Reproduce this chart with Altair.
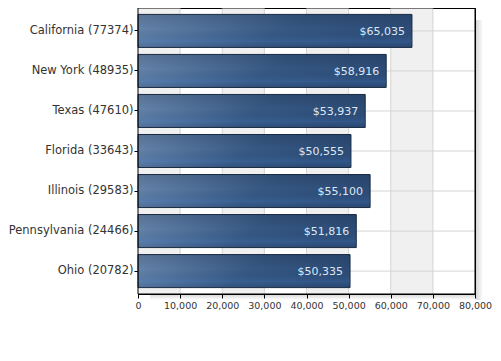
import altair as alt
import pandas as pd

states = ["California", "New York", "Texas", "Florida", "Illinois", "Pennsylvania", "Ohio"]
counts = [77374, 48935, 47610, 33643, 29583, 24466, 20782]
incomes = [65035, 58916, 53937, 50555, 55100, 51816, 50335]
x_ticks = [0, 10000, 20000, 30000, 40000, 50000, 60000, 70000, 80000]
band_starts = [0, 20000, 40000, 60000]

labels = [f"{s} ({c})" for s, c in zip(states, counts)]
df = pd.DataFrame({
    "label": labels,
    "value": incomes,
    "text": [f"${v:,}" for v in incomes],
})
bands = pd.DataFrame({"start": band_starts, "end": [b + 10000 for b in band_starts]})
vgrid = pd.DataFrame({"x": x_ticks[1:-1]})
one = pd.DataFrame({"a": [0]})

W, H = 337, 286
FONT = "DejaVu Sans"

xscale = alt.Scale(domain=[0, 80000], nice=False)
yscale = alt.Scale(paddingInner=0.175, paddingOuter=0.16)
xaxis = alt.Axis(values=x_ticks, format=",d", title=None, grid=False, labelFont=FONT,
                 labelFontSize=9.5, labelColor="#333333", tickColor="black", domainColor="black",
                 tickSize=4, labelPadding=2, orient="bottom", labelOverlap=False, labelFlush=False)
yaxis = alt.Axis(title=None, grid=False, labelFont=FONT, labelFontSize=11.5, labelColor="#333333",
                 tickColor="black", domainColor="black", tickSize=4, labelPadding=1, orient="left",
                 labelOverlap=False)

X = lambda f: alt.X(f, scale=xscale, axis=xaxis)
Y = lambda f: alt.Y(f, sort=labels, scale=yscale, axis=yaxis)

shadow_right = alt.Chart(one).mark_rect(
    clip=False,
    color=alt.Gradient(gradient="linear", x1=0, y1=0, x2=1, y2=0,
                       stops=[alt.GradientStop(color="rgba(0,0,0,0.16)", offset=0),
                              alt.GradientStop(color="rgba(0,0,0,0)", offset=1)])
).encode(x=alt.value(W + 1), x2=alt.value(W + 8), y=alt.value(12), y2=alt.value(H + 6))

shadow_bottom = alt.Chart(one).mark_rect(
    clip=False,
    color=alt.Gradient(gradient="linear", x1=0, y1=0, x2=0, y2=1,
                       stops=[alt.GradientStop(color="rgba(0,0,0,0.14)", offset=0),
                              alt.GradientStop(color="rgba(0,0,0,0)", offset=1)])
).encode(x=alt.value(12), x2=alt.value(W + 1), y=alt.value(H + 1), y2=alt.value(H + 6))

band_layer = alt.Chart(bands).mark_rect(color="#f0f0f0").encode(
    x=X("start:Q"), x2="end:Q"
)

vgrid_layer = alt.Chart(vgrid).mark_rule(color="#d4d4d4", strokeWidth=1).encode(
    x=X("x:Q")
)

hgrid_layer = alt.Chart(df).mark_rule(color="#d4d4d4", strokeWidth=1).encode(
    y=Y("label:N")
)

bar_base = alt.Chart(df).mark_bar(
    stroke="#1b2b42", strokeWidth=1,
    color=alt.Gradient(gradient="linear", x1=0, y1=0, x2=1, y2=0.2,
                       stops=[alt.GradientStop(color="#6c8aae", offset=0),
                              alt.GradientStop(color="#52739c", offset=0.28),
                              alt.GradientStop(color="#365883", offset=0.6),
                              alt.GradientStop(color="#2d4d78", offset=1)])
).encode(x=X("value:Q"), y=Y("label:N"))

bar_overlay = alt.Chart(df).mark_bar(
    strokeWidth=0,
    color=alt.Gradient(gradient="linear", x1=0, y1=0, x2=0, y2=1,
                       stops=[alt.GradientStop(color="rgba(15,30,55,0.22)", offset=0),
                              alt.GradientStop(color="rgba(15,30,55,0)", offset=0.45),
                              alt.GradientStop(color="rgba(70,130,210,0.18)", offset=0.82),
                              alt.GradientStop(color="rgba(20,40,70,0.1)", offset=1)])
).encode(x=X("value:Q"), y=Y("label:N"))

text_layer = alt.Chart(df).mark_text(
    align="right", baseline="middle", dx=-7, dy=1, color="#dde7f4", fontSize=11, font=FONT
).encode(x=X("value:Q"), y=Y("label:N"), text="text:N")

frame = alt.Chart(one).mark_rect(
    fillOpacity=0, fill="white", stroke="black", strokeWidth=1, clip=False
).encode(x=alt.value(0), x2=alt.value(W), y=alt.value(0), y2=alt.value(H))

chart = alt.layer(
    shadow_right, shadow_bottom, band_layer, vgrid_layer, hgrid_layer, bar_base, bar_overlay,
    text_layer, frame
).properties(
    width=W, height=H,
    autosize=alt.AutoSizeParams(type="none"),
    padding={"left": 130, "top": 0, "right": 18, "bottom": 40},
).configure_view(stroke="black", strokeWidth=1, fill="white")

chart.save("out.html", embed_options={"renderer": "svg", "actions": False})
